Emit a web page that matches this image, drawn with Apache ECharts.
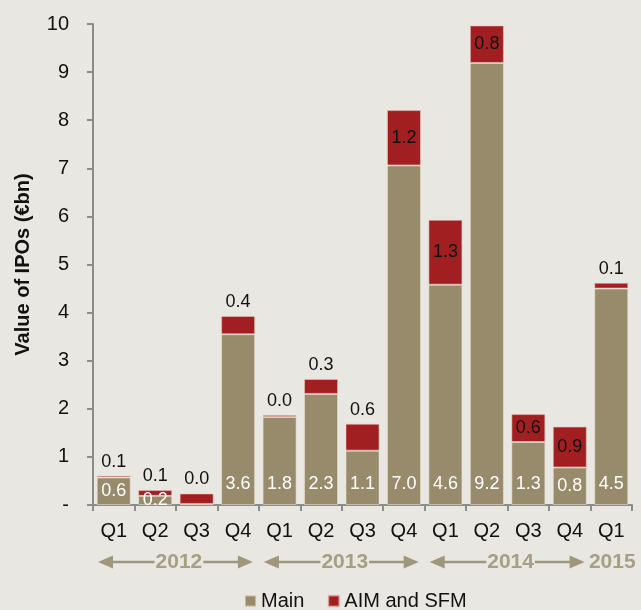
<!DOCTYPE html>
<html>
<head>
<meta charset="utf-8">
<script src="https://cdn.jsdelivr.net/npm/echarts@6/dist/echarts.min.js"></script>
<style>
html,body{margin:0;padding:0;background:#e9e7e2;}
#chart{width:641px;height:610px;}
</style>
</head>
<body>
<div id="chart"></div>
<script>
const categories = ['Q1','Q2','Q3','Q4','Q1','Q2','Q3','Q4','Q1','Q2','Q3','Q4','Q1'];
const years = ['2012','2013','2014','2015'];
const yearStart = [0, 4, 8, 12];
const yearEnd = [3, 7, 11, 12];
const mainValues = [0.57, 0.19, 0.02, 3.55, 1.83, 2.31, 1.13, 7.06, 4.58, 9.19, 1.31, 0.78, 4.50];
const aimValues  = [0.04, 0.12, 0.22, 0.38, 0.04, 0.31, 0.56, 1.15, 1.35, 0.78, 0.58, 0.85, 0.12];
const mainLabels = ['0.6','0.2','','3.6','1.8','2.3','1.1','7.0','4.6','9.2','1.3','0.8','4.5'];
const aimLabels  = ['0.1','0.1','0.0','0.4','0.0','0.3','0.6','1.2','1.3','0.8','0.6','0.9','0.1'];
const yTickLabels = ['-','1','2','3','4','5','6','7','8','9','10'];

const FONT = '"Liberation Sans", Arial, sans-serif';
const BG = '#e9e7e2';
const MAIN_C = '#978b6c';
const AIM_C = '#a21f21';
const YEAR_C = '#a89e83';
const ARROW_C = '#a0967b';
const aimInside = new Set([7, 8, 9, 10, 11]);

const chart = echarts.init(document.getElementById('chart'), null, {renderer: 'canvas'});

const mainData = mainValues.map((v, i) => ({
  value: v,
  label: {
    show: mainLabels[i] !== '',
    formatter: mainLabels[i],
    position: v < 1 ? 'inside' : 'insideBottom',
    distance: 12
  }
}));
const aimData = aimValues.map((v, i) => ({
  value: v,
  label: {
    show: true,
    formatter: aimLabels[i],
    position: aimInside.has(i) ? 'inside' : 'top',
    distance: 5
  }
}));

const option = {
  backgroundColor: BG,
  animation: false,
  textStyle: {fontFamily: FONT},
  grid: {left: 93, right: 9, top: 24, bottom: 105, containLabel: false},
  legend: {
    left: 239, top: 586,
    itemWidth: 11, itemHeight: 11, itemGap: 23,
    icon: 'rect',
    textStyle: {fontSize: 20, color: '#111', fontFamily: FONT},
    data: ['Main', 'AIM and SFM']
  },
  xAxis: {
    type: 'category',
    data: categories,
    axisLine: {lineStyle: {color: '#8c8c8c', width: 2}},
    axisTick: {show: true, length: 6, lineStyle: {color: '#8c8c8c', width: 2}},
    axisLabel: {fontSize: 20, color: '#111', margin: 16, fontFamily: FONT, interval: 0}
  },
  yAxis: {
    type: 'value',
    min: 0, max: 10, interval: 1,
    name: 'Value of IPOs (€bn)',
    nameLocation: 'middle',
    nameGap: 60,
    nameRotate: 90,
    nameTextStyle: {fontSize: 20, fontWeight: 'bold', color: '#111', fontFamily: FONT},
    axisLine: {show: true, lineStyle: {color: '#8c8c8c', width: 2}},
    axisTick: {show: true, length: 6, lineStyle: {color: '#8c8c8c', width: 2}},
    splitLine: {show: false},
    axisLabel: {
      fontSize: 20, color: '#111', margin: 24, fontFamily: FONT,
      formatter: v => yTickLabels[Math.round(v)]
    }
  },
  series: [
    {
      name: 'Main', type: 'bar', stack: 'ipo',
      barCategoryGap: '18%',
      itemStyle: {color: MAIN_C, borderColor: 'rgba(235,225,210,0.55)', borderWidth: 1},
      label: {color: '#ffffff', fontSize: 18, fontFamily: FONT},
      data: mainData
    },
    {
      name: 'AIM and SFM', type: 'bar', stack: 'ipo',
      barCategoryGap: '18%',
      itemStyle: {color: AIM_C, borderColor: 'rgba(235,200,195,0.55)', borderWidth: 1},
      label: {color: '#111111', fontSize: 18, fontFamily: FONT},
      data: aimData
    }
  ]
};
chart.setOption(option);

function drawYears() {
  const c0 = chart.convertToPixel({xAxisIndex: 0}, 0);
  const c1 = chart.convertToPixel({xAxisIndex: 0}, 1);
  const band = c1 - c0;
  const yMid = 562;
  const elems = [];
  years.forEach((yr, k) => {
    const s = chart.convertToPixel({xAxisIndex: 0}, yearStart[k]);
    const e = chart.convertToPixel({xAxisIndex: 0}, yearEnd[k]);
    const cx = (s + e) / 2 + 3;
    if (yearEnd[k] > yearStart[k]) {
      const L = s - band / 2 + 5;
      const R = e + band / 2 - 6;
      const ah = 15, aw = 6.5;
      elems.push({type: 'line', z: 10, shape: {x1: L + ah - 1, y1: yMid, x2: R - ah + 1, y2: yMid},
        style: {stroke: ARROW_C, lineWidth: 2.5}});
      elems.push({type: 'polygon', z: 10, shape: {points: [[L, yMid], [L + ah, yMid - aw], [L + ah, yMid + aw]]},
        style: {fill: ARROW_C}});
      elems.push({type: 'polygon', z: 10, shape: {points: [[R, yMid], [R - ah, yMid - aw], [R - ah, yMid + aw]]},
        style: {fill: ARROW_C}});
      elems.push({type: 'text', z: 11, x: cx, y: yMid,
        style: {text: yr, fill: YEAR_C, font: 'bold 21px ' + FONT, align: 'center', verticalAlign: 'middle',
          backgroundColor: BG, padding: [0, 1]}});
    } else {
      elems.push({type: 'text', z: 11, x: s + 1, y: yMid,
        style: {text: yr, fill: YEAR_C, font: 'bold 21px ' + FONT, align: 'center', verticalAlign: 'middle'}});
    }
  });
  chart.setOption({graphic: elems});
}
drawYears();
</script>
</body>
</html>
